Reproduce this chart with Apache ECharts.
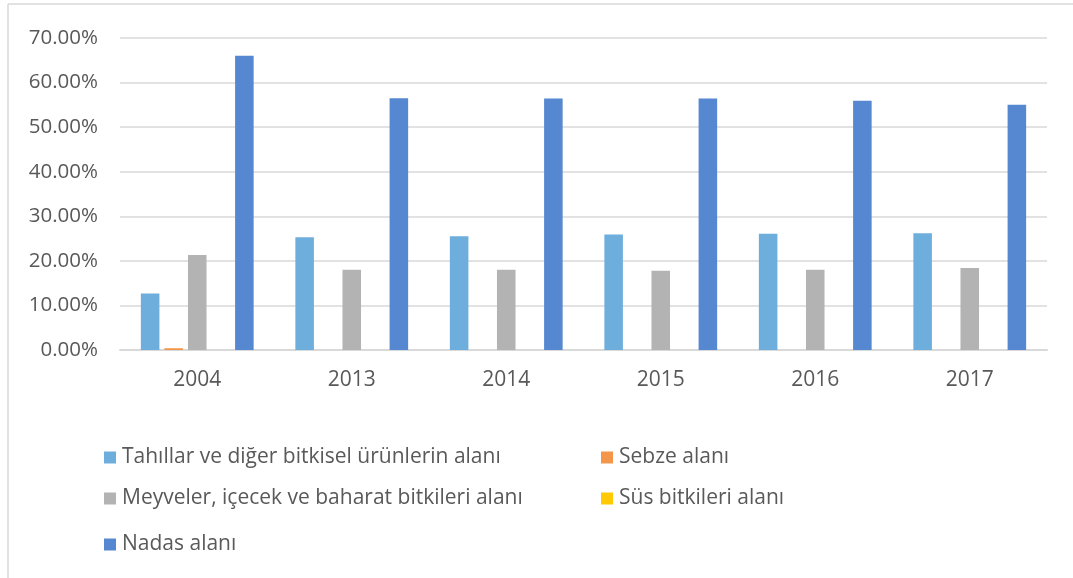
<!DOCTYPE html>
<html>
<head>
<meta charset="utf-8">
<script src="https://cdn.jsdelivr.net/npm/echarts@6/dist/echarts.min.js"></script>
<style>html,body{margin:0;padding:0;background:#fff}#c{width:1073px;height:578px}</style>
</head>
<body>
<div id="c"></div>
<script>
const years = ['2004', '2013', '2014', '2015', '2016', '2017'];
const tahil = [12.7, 25.3, 25.5, 25.9, 26.1, 26.2];
const sebze = [0.4, 0, 0, 0, 0, 0];
const meyve = [21.3, 18.0, 18.0, 17.8, 18.0, 18.4];
const sus = [0, 0, 0, 0, 0, 0];
const nadas = [66.0, 56.5, 56.4, 56.4, 55.9, 55.0];
const yTicks = [0, 10, 20, 30, 40, 50, 60, 70];

const names = ['Tahıllar ve diğer bitkisel ürünlerin alanı', 'Sebze alanı', 'Meyveler, içecek ve baharat bitkileri alanı', 'Süs bitkileri alanı', 'Nadas alanı'];
const colors = ['#6DAEDC', '#F4964A', '#B3B3B3', '#FFC905', '#5588D1'];
const datas = [tahil, sebze, meyve, sus, nadas];

const FONT = 'Open Sans';
const TXT = '#595959';
const legendPos = [[104, 447], [601, 447], [104, 488], [601, 488], [104, 534]];

const chart = echarts.init(document.getElementById('c'), null, {renderer: 'canvas'});
chart.setOption({
  animation: false,
  backgroundColor: '#fff',
  textStyle: {fontFamily: FONT},
  grid: {left: 120, right: 26, top: 38, bottom: 228, containLabel: false},
  legend: names.map((n, i) => ({
    data: [n], left: legendPos[i][0], top: legendPos[i][1],
    icon: 'rect', itemWidth: 12, itemHeight: 12, itemGap: 0,
    textStyle: {fontFamily: FONT, fontSize: 21, color: TXT, padding: [0, 0, 0, 1]},
    selectedMode: false, padding: 0
  })),
  xAxis: {
    type: 'category', data: years,
    axisLine: {lineStyle: {color: '#D9D9D9', width: 2}},
    axisTick: {show: false},
    axisLabel: {fontFamily: FONT, fontSize: 21, color: TXT, margin: 20}
  },
  yAxis: {
    type: 'value', min: 0, max: 70, interval: 10,
    axisLine: {show: false}, axisTick: {show: false},
    splitLine: {lineStyle: {color: '#D9D9D9', width: 1.5}},
    axisLabel: {fontFamily: FONT, fontSize: 20.5, color: TXT, margin: 22,
      formatter: v => yTicks.includes(v) ? v.toFixed(2) + '%' : ''}
  },
  series: names.map((n, i) => ({
    name: n, type: 'bar', data: datas[i],
    barGap: '27%', barCategoryGap: '27%',
    itemStyle: {color: colors[i]}
  })),
  graphic: [
    {type: 'line', shape: {x1: 8, y1: 4, x2: 1073, y2: 4}, style: {stroke: '#D9D9D9', lineWidth: 1.5}},
    {type: 'line', shape: {x1: 8, y1: 4, x2: 8, y2: 578}, style: {stroke: '#D9D9D9', lineWidth: 1.5}}
  ]
});
</script>
</body>
</html>
